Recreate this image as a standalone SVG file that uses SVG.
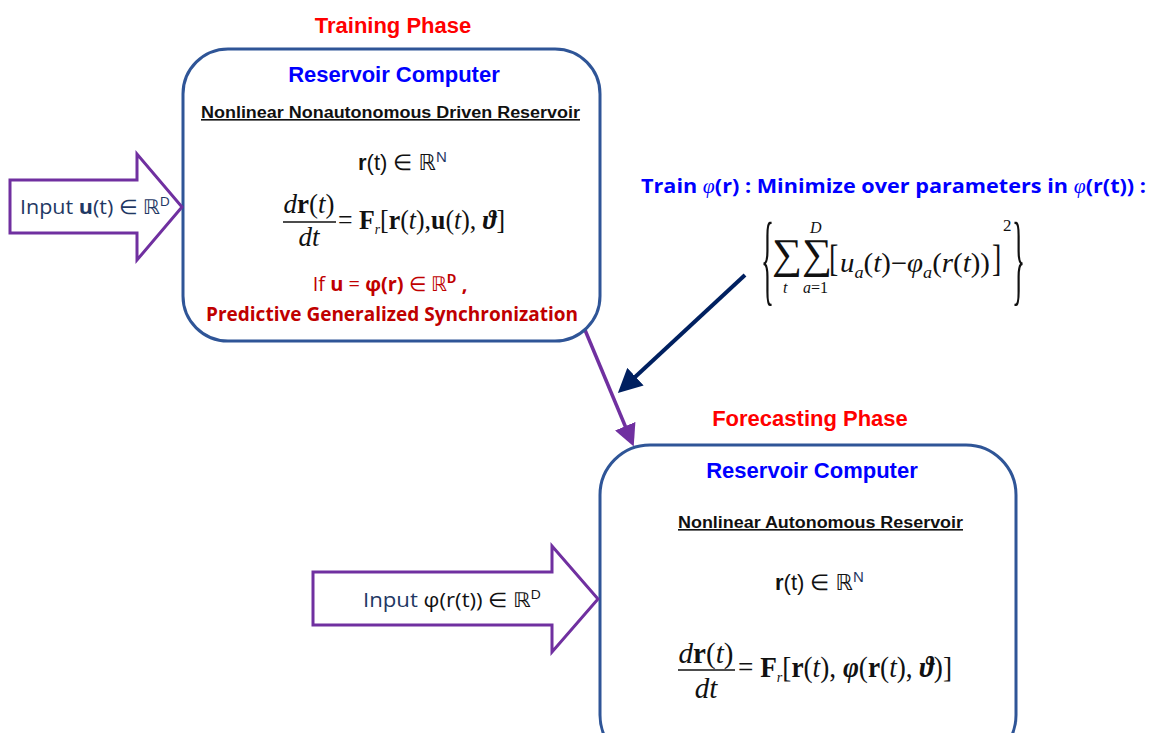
<svg xmlns="http://www.w3.org/2000/svg" width="1151" height="733" viewBox="0 0 1151 733">
<style>
.box{fill:#fff;stroke:#2f5597;stroke-width:3}
.inarrow{fill:#fff;stroke:#7030a0;stroke-width:3;stroke-linejoin:miter}
.phase{font-family:"Liberation Sans",Arial,sans-serif;font-weight:bold;font-size:22px;fill:#ff0000;text-anchor:middle}
.rc{font-family:"Liberation Sans",Arial,sans-serif;font-weight:bold;font-size:22px;fill:#0000ff;text-anchor:middle}
.sub{font-family:"Liberation Sans",Arial,sans-serif;font-weight:bold;font-size:16px;fill:#111;text-decoration:underline}
.rt{font-family:"Liberation Sans",Arial,sans-serif;font-size:22px;fill:#111}
.math{font-family:"Liberation Serif","DejaVu Serif",serif;font-size:27px;fill:#111}
.cal{font-family:"Open Sans","Noto Sans",sans-serif}
.red{fill:#c00000}
.navy{fill:#1f3864}
.train{font-family:"Open Sans","Noto Sans",sans-serif;font-weight:bold;font-size:20px;fill:#0000ff}
</style>
<defs>
<marker id="mPurple" markerUnits="userSpaceOnUse" markerWidth="22" markerHeight="22" viewBox="0 0 22 22" refX="2" refY="11" orient="auto"><path d="M0,0 L22,11 L0,22 Z" fill="#7030a0"/></marker>
<marker id="mNavy" markerUnits="userSpaceOnUse" markerWidth="24" markerHeight="24" viewBox="0 0 24 24" refX="2" refY="12" orient="auto"><path d="M0,0 L24,12 L0,24 Z" fill="#002060"/></marker>
</defs>

<g id="connectors">
<line x1="585" y1="330" x2="626" y2="428" stroke="#7030a0" stroke-width="3.5" marker-end="url(#mPurple)"/>
<line x1="745" y1="275" x2="634" y2="378" stroke="#002060" stroke-width="4" marker-end="url(#mNavy)"/>
</g>

<g id="training-label">
<text class="phase" x="393" y="33">Training Phase</text>
</g>

<g id="training-box">
<rect class="box" x="183" y="49" width="417" height="292" rx="45"/>
<text class="rc" x="394" y="82">Reservoir Computer</text>
<text class="sub" x="201" y="118" textLength="379" lengthAdjust="spacingAndGlyphs">Nonlinear Nonautonomous Driven Reservoir</text>
<text class="rt" x="358" y="170"><tspan font-weight="bold">r</tspan>(t) ∈  <tspan font-family="DejaVu Sans,sans-serif">ℝ</tspan><tspan class="navy" font-size="15" dy="-8">N</tspan></text>
<g class="math">
<text x="309" y="213" text-anchor="middle"><tspan font-style="italic">d</tspan><tspan font-weight="bold">r</tspan>(<tspan font-style="italic">t</tspan>)</text>
<line x1="283" y1="222" x2="336" y2="222" stroke="#111" stroke-width="1.3"/>
<text x="309" y="246" text-anchor="middle" font-style="italic">dt</text>
<text x="338" y="229" textLength="167" lengthAdjust="spacingAndGlyphs">= <tspan font-weight="bold">F</tspan><tspan font-style="italic" font-size="14" dy="5">r</tspan><tspan dy="-5">[</tspan><tspan font-weight="bold">r</tspan>(<tspan font-style="italic">t</tspan>),<tspan font-weight="bold">u</tspan>(<tspan font-style="italic">t</tspan>), <tspan font-style="italic" font-weight="bold">ϑ</tspan>]</text>
</g>
<text class="cal red" x="390" y="291" font-size="20" text-anchor="middle">If <tspan font-weight="bold">u</tspan> = <tspan font-weight="bold">φ(r)</tspan> ∈  <tspan font-family="DejaVu Sans,sans-serif">ℝ</tspan><tspan font-size="13" dy="-8" font-weight="bold">D</tspan><tspan dy="8" font-weight="bold"> ,</tspan></text>
<text class="cal red" x="206" y="321" font-size="19" font-weight="bold" textLength="372" lengthAdjust="spacingAndGlyphs">Predictive Generalized Synchronization</text>
</g>

<g id="input-u">
<polygon class="inarrow" points="10,180 137,180 137,154 182,207 137,260 137,233 10,233"/>
<text class="cal navy" x="20" y="214" font-size="20" textLength="150" lengthAdjust="spacingAndGlyphs">Input  <tspan font-weight="bold">u</tspan>(t) ∈ <tspan font-family="DejaVu Sans,sans-serif">ℝ</tspan><tspan font-size="13" dy="-8">D</tspan></text>
</g>

<g id="train-phi">
<text class="train" x="641" y="193" textLength="505" lengthAdjust="spacingAndGlyphs">Train <tspan font-family="Liberation Serif,serif" font-style="italic" font-weight="normal">φ</tspan>(r) :  Minimize over parameters in <tspan font-family="Liberation Serif,serif" font-style="italic" font-weight="normal">φ</tspan>(r(t)) :</text>
<g class="math">
<text transform="translate(761,292) scale(0.8,3)" font-size="34">{</text>
<text transform="translate(1012,292) scale(0.8,3)" font-size="34">}</text>
<text x="772" y="268" font-size="42">∑</text>
<text x="802" y="268" font-size="42">∑</text>
<text x="783" y="293" font-size="16" font-style="italic">t</text>
<text x="810" y="233" font-size="16" font-style="italic">D</text>
<text x="803" y="293" font-size="16"><tspan font-style="italic">a</tspan>=1</text>
<text transform="translate(829,271) scale(1,1.35)" font-size="28">[</text>
<text x="840" y="272" font-size="27" textLength="150" lengthAdjust="spacingAndGlyphs"><tspan font-style="italic">u</tspan><tspan font-style="italic" font-size="17" dy="6">a</tspan><tspan dy="-6">(</tspan><tspan font-style="italic">t</tspan>)−<tspan font-style="italic">φ</tspan><tspan font-style="italic" font-size="17" dy="6">a</tspan><tspan dy="-6">(</tspan><tspan font-style="italic">r</tspan>(<tspan font-style="italic">t</tspan>))</text>
<text transform="translate(992,271) scale(1,1.35)" font-size="28">]</text>
<text x="1003" y="231" font-size="17">2</text>
</g>
</g>

<g id="forecast-label">
<text class="phase" x="810" y="426">Forecasting Phase</text>
</g>

<g id="forecast-box">
<rect class="box" x="600" y="445" width="416" height="320" rx="50"/>
<text class="rc" x="812" y="478">Reservoir Computer</text>
<text class="sub" x="678" y="528" textLength="285" lengthAdjust="spacingAndGlyphs">Nonlinear Autonomous Reservoir</text>
<text class="rt" x="775" y="590"><tspan font-weight="bold">r</tspan>(t) ∈  <tspan font-family="DejaVu Sans,sans-serif">ℝ</tspan><tspan class="navy" font-size="15" dy="-8">N</tspan></text>
<g class="math" font-size="29">
<text x="706" y="663" text-anchor="middle" font-size="29"><tspan font-style="italic">d</tspan><tspan font-weight="bold">r</tspan>(<tspan font-style="italic">t</tspan>)</text>
<line x1="678" y1="670" x2="735" y2="670" stroke="#111" stroke-width="1.3"/>
<text x="706" y="698" text-anchor="middle" font-style="italic" font-size="29">dt</text>
<text x="738" y="677" font-size="29" textLength="214" lengthAdjust="spacingAndGlyphs">= <tspan font-weight="bold">F</tspan><tspan font-style="italic" font-size="15" dy="5">r</tspan><tspan dy="-5">[</tspan><tspan font-weight="bold">r</tspan>(<tspan font-style="italic">t</tspan>), <tspan font-style="italic" font-weight="bold">φ</tspan>(<tspan font-weight="bold">r</tspan>(<tspan font-style="italic">t</tspan>), <tspan font-style="italic" font-weight="bold">ϑ</tspan>)]</text>
</g>
</g>

<g id="input-phi">
<polygon class="inarrow" points="313,572 552,572 552,546 598,599 552,652 552,625 313,625"/>
<text class="cal navy" x="363" y="607" font-size="20" textLength="178" lengthAdjust="spacingAndGlyphs">Input   <tspan fill="#111">φ(r(t)) ∈ <tspan font-family="DejaVu Sans,sans-serif">ℝ</tspan><tspan font-size="13" dy="-8">D</tspan></tspan></text>
</g>
</svg>
